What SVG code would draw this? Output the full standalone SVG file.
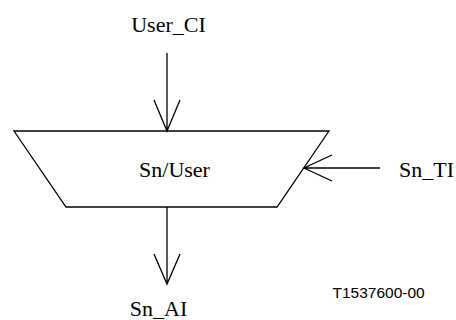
<svg xmlns="http://www.w3.org/2000/svg" width="456" height="320" viewBox="0 0 456 320">
<style>
.s{fill:none;stroke:#000;stroke-width:1.3}
.t{font-family:"Liberation Serif",serif;font-size:22px;fill:#000}
.c{font-family:"Liberation Sans",sans-serif;font-size:15.5px;fill:#000}
</style>
<rect width="456" height="320" fill="#fff"/>
<g id="connectors">
<path class="s" d="M167 53V131M154 100L167 131L180 100"/>
<path class="s" d="M380 168H304M332 155L304 168L332 181"/>
<path class="s" d="M167 207V284M154 254L167 284L180 254"/>
</g>
<g id="node-snuser">
<polygon class="s" points="14,131 329,131 277,207 66,207"/>
<text class="t" x="174.5" y="177" text-anchor="middle">Sn/User</text>
</g>
<g id="label-userci"><text class="t" x="168.5" y="32" text-anchor="middle">User_CI</text></g>
<g id="label-snti"><text class="t" x="399" y="177">Sn_TI</text></g>
<g id="label-snai"><text class="t" x="158.5" y="316" text-anchor="middle">Sn_AI</text></g>
<g id="label-code"><text class="c" x="332.5" y="297.5">T1537600-00</text></g>
</svg>
